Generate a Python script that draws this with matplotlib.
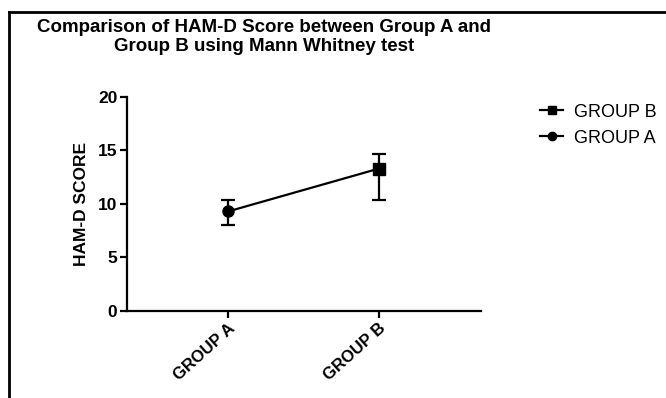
import matplotlib.pyplot as plt
from matplotlib.lines import Line2D

plt.rcParams['font.family'] = ['Liberation Sans', 'DejaVu Sans']

groups = ['GROUP A', 'GROUP B']
medians = [9.3, 13.3]
lower = [8.0, 10.4]
upper = [10.4, 14.7]
markers = ['o', 's']
legend_order = ['GROUP B', 'GROUP A']

fig = plt.figure(figsize=(6.66, 3.98), dpi=100)
ax = fig.add_axes([0.1907, 0.2186, 0.5315, 0.5377])

x = list(range(len(groups)))
ax.plot(x, medians, color='black', lw=1.6, zorder=2)
for i in x:
    err = [[medians[i] - lower[i]], [upper[i] - medians[i]]]
    ax.errorbar([i], [medians[i]], yerr=err, fmt=markers[i], color='black',
                ms=8, capsize=5, elinewidth=1.6, capthick=1.6, zorder=3)

ax.set_xlim(-0.67, 1.68)
ax.set_ylim(0, 20)
ax.set_yticks([0, 5, 10, 15, 20])
ax.set_xticks(x)
ax.set_xticklabels(groups, rotation=42, ha='right', rotation_mode='anchor',
                   fontsize=12, fontweight='bold')
for lab in ax.get_yticklabels():
    lab.set_fontweight('bold')
    lab.set_fontsize(12.5)
ax.set_ylabel('HAM-D SCORE', fontsize=12.5, fontweight='bold', labelpad=6)

for side in ['top', 'right']:
    ax.spines[side].set_visible(False)
for side in ['left', 'bottom']:
    ax.spines[side].set_linewidth(1.6)
ax.tick_params(width=1.6, length=5, pad=2)

handles = [Line2D([], [], color='black', marker='s', ms=6, lw=1.6),
           Line2D([], [], color='black', marker='o', ms=6, lw=1.6)]
fig.legend(handles, legend_order, loc='upper left', bbox_to_anchor=(0.800, 0.758),
           frameon=False, fontsize=13, handlelength=1.3, handletextpad=0.6,
           labelspacing=0.5, borderaxespad=0)

fig.text(0.397, 0.952, 'Comparison of HAM-D Score between Group A and\nGroup B using Mann Whitney test',
         ha='center', va='top', fontsize=13.5, fontweight='bold', linespacing=1.15)

# outer frame (left and top edges visible in the source image)
fig.add_artist(Line2D([0.014, 0.014], [0, 0.97], color='black', lw=2, transform=fig.transFigure))
fig.add_artist(Line2D([0.013, 1.0], [0.97, 0.97], color='black', lw=2, transform=fig.transFigure))

fig.savefig('out.png', dpi=100)
